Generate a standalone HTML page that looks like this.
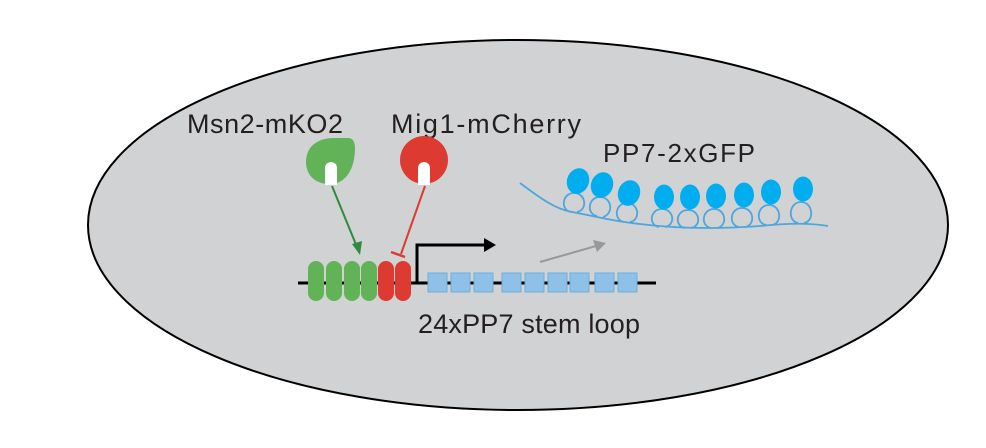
<!DOCTYPE html>
<html><head><style>
html,body{margin:0;padding:0;background:#fff;width:986px;height:448px;overflow:hidden}
text{font-family:"Liberation Sans",sans-serif;fill:#231f20}
</style></head><body>
<svg width="986" height="448" viewBox="0 0 986 448" xmlns="http://www.w3.org/2000/svg">
<ellipse cx="518" cy="225" rx="430" ry="185" fill="#d1d2d4" stroke="#000" stroke-width="2"/>
<text x="187" y="133" font-size="27" textLength="156">Msn2-mKO2</text>
<text x="391" y="133" font-size="27" textLength="190">Mig1-mCherry</text>
<text x="603" y="162" font-size="26" textLength="152">PP7-2xGFP</text>
<text x="418" y="333" font-size="27" textLength="222">24xPP7 stem loop</text>
<path d="M330 184 C312 184 306 172 306 162 C306 146 318 138 334 138 L348 138 C353 138 355 142 355 148 C355 170 345 184 330 184Z" fill="#62b357"/>
<path d="M325 185 L325 168 A6 6 0 0 1 337 168 L337 185Z" fill="#fff"/>
<circle cx="424" cy="160" r="24" fill="#dd3a32"/>
<path d="M418 185 L418 168 A6 6 0 0 1 430 168 L430 185Z" fill="#fff"/>
<line x1="332" y1="186" x2="357" y2="247" stroke="#2e8b3e" stroke-width="2"/>
<polygon points="360,255 352,244 362,241" fill="#2e8b3e"/>
<line x1="425" y1="186" x2="401" y2="254" stroke="#dd3a32" stroke-width="2"/>
<line x1="391" y1="252" x2="405" y2="257" stroke="#dd3a32" stroke-width="2.5"/>
<line x1="298" y1="283" x2="656" y2="283" stroke="#000" stroke-width="3"/>
<g fill="#62b357">
<rect x="308" y="261" width="16" height="40" rx="8"/>
<rect x="326" y="261" width="16" height="40" rx="8"/>
<rect x="344" y="261" width="16" height="40" rx="8"/>
<rect x="361" y="261" width="16" height="40" rx="8"/>
</g>
<g fill="#dd3a32">
<rect x="378" y="261" width="16" height="40" rx="8"/>
<rect x="395" y="261" width="16" height="40" rx="8"/>
</g>
<g fill="#8fc1e8" stroke="#6aaee0" stroke-width="1">
<rect x="428" y="273" width="19" height="19"/>
<rect x="451" y="273" width="19" height="19"/>
<rect x="474" y="273" width="19" height="19"/>
<rect x="502" y="273" width="19" height="19"/>
<rect x="525" y="273" width="19" height="19"/>
<rect x="548" y="273" width="19" height="19"/>
<rect x="570" y="273" width="19" height="19"/>
<rect x="595" y="273" width="19" height="19"/>
<rect x="618" y="273" width="19" height="19"/>
</g>
<polyline points="417,283 417,245 485,245" fill="none" stroke="#000" stroke-width="3"/>
<polygon points="496,245 484,238 484,252" fill="#000"/>
<line x1="540" y1="262" x2="596" y2="246" stroke="#999" stroke-width="2"/>
<polygon points="606,243 593,240 597,252" fill="#999"/>
<g fill="none" stroke="#4da6dc" stroke-width="1.8">
<path d="M520 183 C540 198 555 209 572 212 C590 215 610 221 640 224 C680 229 720 229 760 226 C790 223 810 223 828 226"/>
<path d="M571 212 C560 210 562 193 574 193 C586 193 588 210 577 212"/>
<path d="M597 216 C586 214 588 197 600 197 C612 197 614 214 603 217"/>
<path d="M624 222 C613 220 615 203 627 203 C639 203 641 220 630 222"/>
<path d="M659 227 C648 225 650 209 662 209 C674 209 676 225 665 227"/>
<path d="M685 228 C674 226 676 210 688 210 C700 210 702 226 691 228"/>
<path d="M711 228 C700 226 702 209 714 209 C726 209 728 226 717 228"/>
<path d="M739 227 C728 225 730 208 742 208 C754 208 756 225 745 227"/>
<path d="M766 225 C755 223 757 205 769 205 C781 205 783 223 772 225"/>
<path d="M798 223 C787 221 789 202 801 202 C813 202 815 221 804 223"/>
</g>
<g fill="#00aeef">
<ellipse cx="578" cy="181" rx="11" ry="13" transform="rotate(20 578 181)"/>
<ellipse cx="602" cy="185" rx="11" ry="13" transform="rotate(20 602 185)"/>
<ellipse cx="629" cy="193" rx="11" ry="13" transform="rotate(20 629 193)"/>
<ellipse cx="664" cy="197" rx="10" ry="12.5"/>
<ellipse cx="690" cy="197" rx="10" ry="12.5"/>
<ellipse cx="716" cy="196" rx="10" ry="12.5"/>
<ellipse cx="744" cy="195" rx="10" ry="12.5"/>
<ellipse cx="771" cy="192" rx="10" ry="12.5"/>
<ellipse cx="803" cy="189" rx="10" ry="12.5"/>
</g>
</svg>
</body></html>
